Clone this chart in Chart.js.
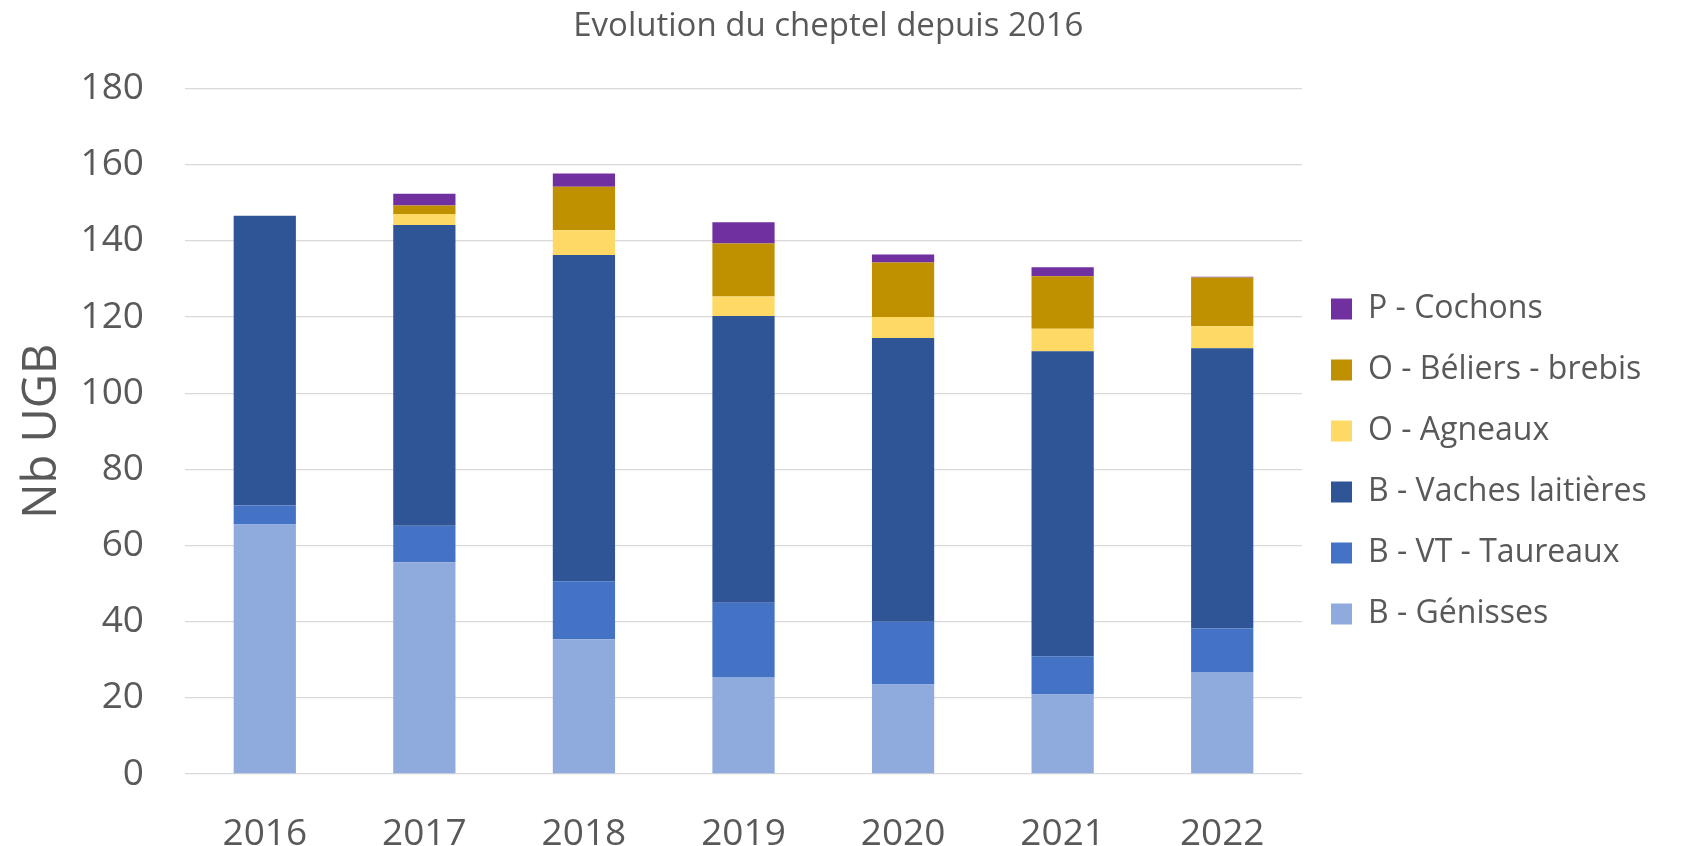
<!DOCTYPE html>
<html>
<head>
<meta charset="utf-8">
<script src="https://cdn.jsdelivr.net/npm/chart.js@4/dist/chart.umd.min.js"></script>
<style>
  html, body { margin: 0; padding: 0; background: #fff; }
  #wrap { width: 1683px; height: 846px; }
</style>
</head>
<body>
<div id="wrap"><canvas id="cheptelChart"></canvas></div>
<script>
const years = ["2016", "2017", "2018", "2019", "2020", "2021", "2022"];

// Nb UGB par catégorie
const genisses = [65.5, 55.6, 35.4, 25.5, 23.5, 20.9, 26.8];
const taureaux = [5.0, 9.6, 15.2, 19.5, 16.5, 10.0, 11.4];
const vaches = [76.1, 79.0, 85.7, 75.3, 74.5, 80.1, 73.6];
const agneaux = [0, 2.9, 6.5, 5.1, 5.5, 5.9, 5.8];
const beliers = [0, 2.2, 11.4, 13.9, 14.3, 13.8, 12.8];
const cochons = [0, 3.1, 3.5, 5.6, 2.1, 2.4, 0.2];

const textColor = "#595959";
const gridColor = "#d9d9d9";
const fontFamily = "'Open Sans', sans-serif";

Chart.defaults.font.family = fontFamily;
Chart.defaults.color = textColor;

function serie(label, data, color) {
  return {
    label: label,
    data: data,
    backgroundColor: color,
    borderWidth: 0,
    categoryPercentage: 1,
    barPercentage: 0.39
  };
}

const datasets = [
  serie("B - Génisses", genisses, "#8faadc"),
  serie("B - VT - Taureaux", taureaux, "#4472c4"),
  serie("B - Vaches laitières", vaches, "#2f5597"),
  serie("O - Agneaux", agneaux, "#ffd966"),
  serie("O - Béliers - brebis", beliers, "#bf9000"),
  serie("P - Cochons", cochons, "#7030a0")
];

// legend sizing: keep the plot's right edge near x=1302
const legendFont = 32;
const legendPad = 29;
const measure = document.createElement("canvas").getContext("2d");
measure.font = legendFont + "px " + fontFamily;
const widest = Math.max(...datasets.map(d => measure.measureText(d.label).width));
const legendWidth = legendPad + 21 + legendFont / 2 + widest + 10;
const rightPad = Math.max(0, 1683 - 1302 - legendWidth);

const ctx = document.getElementById("cheptelChart").getContext("2d");

new Chart(ctx, {
  type: "bar",
  data: { labels: years, datasets: datasets },
  options: {
    responsive: true,
    maintainAspectRatio: false,
    animation: false,
    layout: { padding: { left: 0, right: rightPad, top: 0, bottom: 0 } },
    plugins: {
      title: {
        display: true,
        text: "Evolution du cheptel depuis 2016",
        color: textColor,
        font: { size: 33, weight: "normal" },
        padding: { top: 7, bottom: 42 }
      },
      legend: {
        position: "right",
        align: "start",
        reverse: true,
        title: {
          display: true,
          text: " ",
          font: { size: 10 },
          padding: { top: 252, bottom: 0 }
        },
        labels: {
          boxWidth: 21,
          boxHeight: 21,
          padding: legendPad,
          color: textColor,
          font: { size: legendFont }
        }
      },
      tooltip: { enabled: false }
    },
    scales: {
      x: {
        stacked: true,
        grid: { display: false },
        border: { display: false },
        ticks: { font: { size: 37 }, color: textColor, padding: 30 },
        afterFit: (s) => { s.height = 72; }
      },
      y: {
        stacked: true,
        min: 0,
        max: 180,
        ticks: { stepSize: 20, font: { size: 37 }, color: textColor, padding: 41 },
        grid: { color: gridColor, lineWidth: 1.3, drawTicks: false },
        border: { display: false },
        title: {
          display: true,
          text: "Nb UGB",
          color: textColor,
          font: { size: 47 },
          padding: { top: 14, bottom: 0 }
        },
        afterFit: (s) => { s.width = 185; }
      }
    }
  }
});
</script>
</body>
</html>
